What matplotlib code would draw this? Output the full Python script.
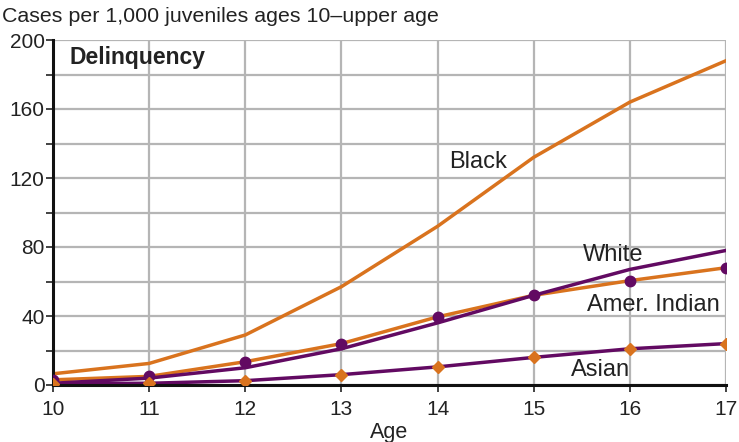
import matplotlib
matplotlib.use("Agg")
import matplotlib.pyplot as plt
import numpy as np

plt.rcParams['font.family'] = ['Liberation Sans', 'DejaVu Sans']

ages = [10, 11, 12, 13, 14, 15, 16, 17]
black = [6.5, 12.5, 29, 57, 92, 132, 164, 188]
white = [1, 4, 10, 21, 36, 52, 67, 78]
amer_indian = [3, 5, 13.5, 24, 39.5, 52, 60.5, 68]
asian = [0.8, 1, 2.5, 6, 10.5, 16, 21, 24]

orange = '#D9731E'
purple = '#620A62'
txt = '#222222'

fig = plt.figure(figsize=(7.39, 4.42), dpi=100)
ax = fig.add_axes([53/739, (442-385)/442, (726-53)/739, (385-40)/442])

ax.plot(ages, black, color=orange, lw=2.5, zorder=3)
ax.plot(ages, amer_indian, color=orange, lw=2.5, zorder=3)
ax.plot(ages, white, color=purple, lw=2.5, zorder=3)
ax.plot(ages, amer_indian, color='none', marker='o', ms=7.5, mfc=purple, mec=purple, zorder=5)
ax.plot(ages, asian, color=purple, lw=2.5, zorder=3)
ax.plot(ages, asian, color='none', marker='D', ms=6.5, mfc=orange, mec=orange, zorder=5)

ax.set_xlim(10, 17)
ax.set_ylim(0, 200)
ax.set_xticks(ages)
ax.set_yticks(np.arange(0, 201, 40))
ax.set_yticks(np.arange(20, 200, 40), minor=True)
ax.grid(True, which='both', color='#b5b5b5', lw=1.6, zorder=1)
ax.set_axisbelow(True)
for s in ['top', 'right']:
    ax.spines[s].set_visible(False)
for s in ['left', 'bottom']:
    ax.spines[s].set_linewidth(2.2)
    ax.spines[s].set_color('#111111')
    ax.spines[s].set_zorder(4)
ax.tick_params(which='both', direction='out', length=5, width=1.2, color=txt,
               labelsize=15, labelcolor=txt)
ax.tick_params(axis='x', pad=6)
ax.tick_params(axis='y', which='major', pad=1)

ax.set_xlabel('Age', fontsize=15.5, color=txt, labelpad=2)
fig.text(2/739, 1 - 17/442, 'Cases per 1,000 juveniles ages 10\u2013upper age', fontsize=15.4,
         color=txt, va='center', ha='left')
ax.text(10.17, 190, 'Delinquency', fontsize=16.5, fontweight='bold', color=txt, va='center')

ax.text(14.42, 129, 'Black', fontsize=17, color=txt, ha='center', va='center')
ax.text(15.83, 75.5, 'White', fontsize=17, color=txt, ha='center', va='center')
ax.text(16.24, 46.5, 'Amer. Indian', fontsize=17, color=txt, ha='center', va='center')
ax.text(15.69, 8.5, 'Asian', fontsize=17, color=txt, ha='center', va='center')

fig.savefig('out.png', dpi=100)
